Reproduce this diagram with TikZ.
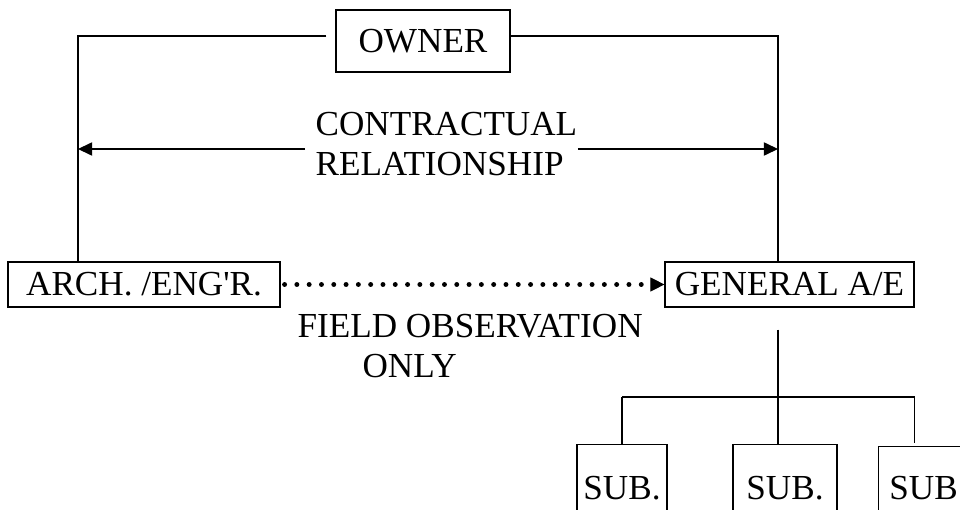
\documentclass[tikz,border=0pt]{standalone}
\usepackage{fontspec}
\setmainfont{Liberation Serif}[Ligatures=TeXOff]
\usepackage{tikz}
\usetikzlibrary{arrows.meta, positioning, calc}

\begin{document}
\begin{tikzpicture}[
  x=0.02cm, y=-0.02cm,
  font=\fontsize{20}{23}\selectfont,
  line width=0.7pt,
  box/.style={
    draw,
    inner sep=0pt,
    align=center
  },
  namebox/.style={
    box,
    minimum height=0.9cm
  },
  subbox/.style={
    box,
    anchor=north,
    minimum width=1.8cm,
    text height=1.1cm,
    text depth=1.6cm
  },
  contract/.style={-{Triangle[length=8pt, width=7.5pt]}},
  observe/.style={
    line width=2.8pt,
    line cap=round,
    dash pattern=on 0pt off 7pt,
    -{Triangle[length=8pt, width=8pt, line width=0.5pt]}
  },
  label/.style={align=left, inner sep=0pt}
]
\useasboundingbox (0,0) rectangle (960,510);

% Parties.
\node[box, minimum width=3.48cm, minimum height=1.24cm] (owner) at (423,41) {OWNER};
\node[namebox, minimum width=5.44cm] (arch) at (144,284.5) {ARCH. /ENG'R.};
\node[namebox, minimum width=4.98cm] (general) at (789.5,284.5) {GENERAL A/E};

% Subcontractors, cut by the lower edge.
\node[subbox] (sub1) at (622,444) {SUB.};
\node[subbox, minimum width=2.08cm] (sub2) at (785,444) {SUB.};
\node[subbox, anchor=north west, text height=1.06cm] (sub3) at (878,446) {SUB};

% Labels.
\node[label, anchor=west] (relation) at (315,144) {CONTRACTUAL\\RELATIONSHIP};
\node[label, anchor=west] (field) at (297,346) {FIELD OBSERVATION\\\hspace*{1.3cm}ONLY};

\coordinate (tl) at (78,36);
\coordinate (tr) at (778,36);
\coordinate (jn) at (778,397);

% Owner to both parties.
\draw ([shift={(-9,-5)}]owner.west) -- (tl) -- (tl |- arch.north);
\draw ([shift={(0,-5)}]owner.east) -- (tr) -- (tr |- general.north);

% Contractual relationship.
\draw[contract] ([shift={(-10,5)}]relation.west) coordinate (cl) -- (cl -| tl);
\draw[contract] ([shift={(0,5)}]relation.east) coordinate (cr) -- (cr -| tr);

% Field observation only.
\draw[observe] ([xshift=0.08cm]arch.east) -- (general.west);

% General A/E to the subs.
\draw ([shift={(-11.5,22)}]general.south) -- (jn);
\draw (jn -| sub1.north) -- (jn -| general.east);
\draw (jn -| sub1.north) -- (sub1.north);
\draw (jn) -- (jn |- sub2.north);
\draw (jn -| general.east) -- ([yshift=0.06cm]general.east |- sub3.north);

\end{tikzpicture}
\end{document}
